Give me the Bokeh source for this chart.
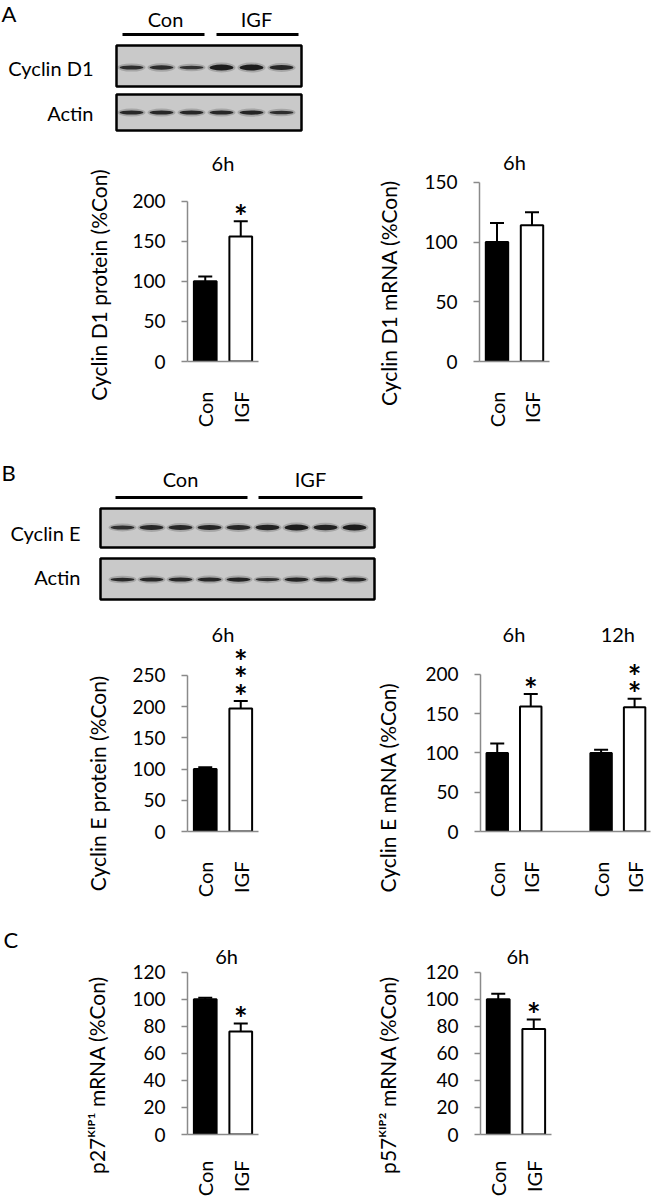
import numpy as np
from bokeh.plotting import figure
from bokeh.models import Range1d, FixedTicker
from bokeh.layouts import column, row
from bokeh.embed import file_html
from bokeh.resources import INLINE
from bokeh.core.properties import value

FONT = "Lato"
GRAY = "#8a8a8a"

# ---------------- data ----------------
cats = ["Con", "IGF"]
# Panel A
a1_vals = [100, 156]
a1_err = [6, 19]
a1_stars = [0, 1]
a2_vals = [100, 114]
a2_err = [16, 11]
a2_stars = [0, 0]
# Panel B
b1_vals = [100, 197]
b1_err = [3, 12]
b1_stars = [0, 3]
b2_times = ["6h", "12h"]
b2_cats = ["Con", "IGF", "Con", "IGF"]
b2_vals = [100, 159, 100, 158]
b2_err = [12, 16, 4, 11]
b2_stars = [0, 1, 0, 2]
# Panel C
c1_vals = [100, 76]
c1_err = [1, 6]
c1_stars = [0, 1]
c2_vals = [100, 78]
c2_err = [4, 7]
c2_stars = [0, 1]

y_titles = ["Cyclin D1 protein (%Con)", "Cyclin D1 mRNA (%Con)",
            "Cyclin E protein (%Con)", "Cyclin E mRNA (%Con)",
            "p27\u1d37\u1d35\u1d3e\u00b9 mRNA (%Con)", "p57\u1d37\u1d35\u1d3e\u00b2 mRNA (%Con)"]

# blot band intensities (relative)
blot_a_cyc = [0.70, 0.72, 0.60, 1.00, 1.00, 0.80]
blot_a_act = [0.80, 0.80, 0.82, 0.80, 0.85, 0.70]
blot_b_cyc = [0.65, 0.80, 0.80, 0.85, 0.80, 0.90, 1.00, 0.90, 1.00]
blot_b_act = [0.75, 0.80, 0.80, 0.80, 0.85, 0.65, 0.85, 0.80, 0.80]


def no_align(p):
    # keep each plot's own borders (no frame alignment between neighbours)
    if "frame_align" in p.properties():
        p.frame_align = False
    return p


# ---------------- helpers ----------------
def strip_fig(x0, w, y0, h):
    # pixel-space figure, y grows downward
    p = figure(width=w, height=h, x_range=Range1d(x0, x0 + w), y_range=Range1d(y0 + h, y0),
               output_backend="svg", toolbar_location=None, min_border=0,
               x_axis_location=None, y_axis_location=None)
    p.grid.visible = False
    p.outline_line_color = None
    return no_align(p)


def txt(p, x, y, s, size="20px", align="center"):
    p.text(x=[x], y=[y], text=[s], text_font=value(FONT), text_font_size=size,
           text_align=align, text_baseline="middle", text_color="black")


def draw_blot(p, left, right, top, bottom, lane0, step, band_y, inten, thick):
    p.quad(left=[left], right=[right], top=[top], bottom=[bottom],
           fill_color="#c9c9c9", line_color="black", line_width=2.5)
    xs = [lane0 + step * i for i in range(len(inten))]
    hs = [thick * v for v in inten]
    p.ellipse(x=xs, y=[band_y] * len(xs), width=28, height=[h + 4 for h in hs],
              fill_color="#3a3a3a", fill_alpha=0.25, line_color=None)
    p.ellipse(x=xs, y=[band_y] * len(xs), width=24, height=hs,
              fill_color="#1c1c1c", fill_alpha=[0.6 + 0.4 * v for v in inten], line_color=None)


def ytitle_fig(x0, w, y0, h, xc, ctr, s):
    # a narrow figure whose (empty) y-axis carries the axis title; the frame is
    # centred on the wanted title centre so Bokeh centres the title there
    Fb = y0 + h
    Ft = 2 * ctr - Fb
    if Ft < y0:
        Ft = y0
        Fb = 2 * ctr - y0
    left = int(round(xc - x0 + 12))
    p = figure(width=w, height=h, x_range=Range1d(0, 1), y_range=Range1d(0, 1),
               output_backend="svg", toolbar_location=None,
               min_border_left=left, min_border_right=0,
               min_border_top=int(round(Ft - y0)), min_border_bottom=int(round(y0 + h - Fb)),
               x_axis_location=None)
    p.grid.visible = False
    p.outline_line_color = None
    yax = p.yaxis[0]
    yax.ticker = FixedTicker(ticks=[])
    yax.axis_line_color = None
    yax.major_tick_line_color = None
    yax.minor_tick_line_color = None
    yax.major_label_text_font_size = "0px"
    yax.axis_label = s
    yax.axis_label_text_font = FONT
    yax.axis_label_text_font_size = "21px"
    yax.axis_label_text_font_style = "normal"
    yax.axis_label_text_color = "black"
    yax.axis_label_standoff = 0
    return no_align(p)


def chart(figx, figy, w, h, L, R, T, B, ymax, step, xend, xpos, labels, vals, errs, stars,
          titles, xstandoff):
    ppu = (B - T) / ymax
    upx = (R - L) / xend
    ytop = ymax + (T - figy) / ppu
    p = figure(width=w, height=h, x_range=Range1d(0, xend), y_range=Range1d(0, ytop),
               output_backend="svg", toolbar_location=None,
               min_border_left=L - figx, min_border_right=figx + w - R,
               min_border_top=0, min_border_bottom=figy + h - B)
    p.outline_line_color = None
    p.grid.visible = False
    colors = ["black" if c_ == "Con" else "white" for c_ in labels]
    p.vbar(x=xpos, top=vals, width=0.64, fill_color=colors, line_color="black", line_width=2)
    tops = [v + e for v, e in zip(vals, errs)]
    p.segment(x0=xpos, y0=vals, x1=xpos, y1=tops, line_color="black", line_width=2)
    cap = 7 / upx
    p.segment(x0=[x - cap for x in xpos], y0=tops, x1=[x + cap for x in xpos], y1=tops,
              line_color="black", line_width=2)
    sx, sy = [], []
    for i, n in enumerate(stars):
        for k in range(n):
            sx.append(xpos[i])
            sy.append(tops[i] + (5 + 18 * k) / ppu)
    if sx:
        p.text(x=sx, y=sy, text=["*"] * len(sx), text_font=value(FONT), text_font_size="32px",
               text_font_style="bold", text_align="center", text_baseline="middle",
               text_color="black")
    p.text(x=[t[0] for t in titles], y=[ymax + (t[1] - 1) / ppu for t in titles],
           text=[t[2] for t in titles], text_font=value(FONT), text_font_size="20px",
           text_align="center", text_baseline="middle", text_color="black")
    yax = p.yaxis[0]
    yax.bounds = (0, ymax)
    yax.ticker = FixedTicker(ticks=list(range(0, ymax + 1, step)))
    yax.axis_line_color = GRAY
    yax.axis_line_width = 1.5
    yax.major_tick_line_color = GRAY
    yax.major_tick_line_width = 1.5
    yax.major_tick_out = 6
    yax.major_tick_in = 0
    yax.minor_tick_line_color = None
    yax.major_label_text_font = FONT
    yax.major_label_text_font_size = "19px"
    yax.major_label_text_color = "black"
    yax.major_label_standoff = 16
    xax = p.xaxis[0]
    xax.ticker = FixedTicker(ticks=xpos)
    xax.major_label_overrides = {x: c_ for x, c_ in zip(xpos, labels)}
    xax.major_label_orientation = np.pi / 2
    xax.major_tick_line_color = None
    xax.minor_tick_line_color = None
    xax.axis_line_color = GRAY
    xax.axis_line_width = 1.5
    xax.major_label_text_font = FONT
    xax.major_label_text_font_size = "20px"
    xax.major_label_text_color = "black"
    xax.major_label_standoff = xstandoff
    return no_align(p)


def simple_pos(n):
    return [i + 0.5 for i in range(n)]


# column geometry (screen px): left title strip | left chart | right title strip | right chart
XL0, XL1, XR0, XR1, XEND = 0, 118, 330, 410, 651

# ---------------- blot A ----------------
bA = strip_fig(0, 651, 0, 138)
txt(bA, 1, 13, "A", "22px", "left")
txt(bA, 165, 18, cats[0])
txt(bA, 256, 18, cats[1])
bA.segment(x0=[122, 216], y0=[34, 34], x1=[204, 298], y1=[34, 34], line_color="black", line_width=3)
draw_blot(bA, 116, 301, 45, 86, 131, 30, 67, blot_a_cyc, 6)
draw_blot(bA, 116, 301, 94, 130, 131, 30, 112, blot_a_act, 5)
txt(bA, 93, 67, "Cyclin D1", "20px", "right")
txt(bA, 93, 112, "Actin", "20px", "right")

# ---------------- charts A ----------------
xp = simple_pos(2)
Y0, H = 138, 292
tA1 = ytitle_fig(XL0, XL1 - XL0, Y0, H, 98, 284.5, y_titles[0])
a1 = chart(XL1, Y0, XR0 - XL1, H, 187, 258, 201, 362, 200, 50, 2, xp, cats, a1_vals, a1_err, a1_stars,
           [(1.0, 39, "6h")], 24)
tA2 = ytitle_fig(XR0, XR1 - XR0, Y0, H, 388, 292.5, y_titles[1])
a2 = chart(XR1, Y0, XEND - XR1, H, 479, 549, 182, 362, 150, 50, 2, xp, cats, a2_vals, a2_err, a2_stars,
           [(1.0, 21, "6h")], 24)

# ---------------- blot B ----------------
bB = strip_fig(0, 651, 430, 175)
txt(bB, 1, 472, "B", "22px", "left")
txt(bB, 180, 478, cats[0])
txt(bB, 310, 478, cats[1])
bB.segment(x0=[115, 258], y0=[497, 497], x1=[247, 362], y1=[497, 497], line_color="black", line_width=3)
draw_blot(bB, 100, 374, 508, 547, 122, 29, 527, blot_b_cyc, 6)
draw_blot(bB, 100, 374, 558, 599, 122, 29, 579, blot_b_act, 5)
txt(bB, 80, 532, "Cyclin E", "20px", "right")
txt(bB, 80, 576, "Actin", "20px", "right")

# ---------------- charts B ----------------
Y0, H = 605, 295
tB1 = ytitle_fig(XL0, XL1 - XL0, Y0, H, 97, 783, y_titles[2])
b1 = chart(XL1, Y0, XR0 - XL1, H, 187, 258, 677, 838, 250, 50, 2, xp, cats, b1_vals, b1_err, b1_stars,
           [(1.0, 44, "6h")], 24)
gap = 1.1
b2_pos = [round(i + 0.5 + gap * (i // 2), 3) for i in range(len(b2_cats))]
b2_xend = (650 - 480) / 33.5
b2_titles = [((b2_pos[2 * g] + b2_pos[2 * g + 1]) / 2, 43, t) for g, t in enumerate(b2_times)]
tB2 = ytitle_fig(XR0, XR1 - XR0, Y0, H, 387, 787, y_titles[3])
b2 = chart(XR1, Y0, XEND - XR1, H, 480, 650, 676, 838, 200, 50, b2_xend, b2_pos, b2_cats, b2_vals,
           b2_err, b2_stars, b2_titles, 24)

# ---------------- charts C ----------------
Y0, H = 900, 299
LET_H = 60
letC = strip_fig(XL0, XL1 - XL0, Y0, LET_H)
txt(letC, 3, 939, "C", "22px", "left")
tC1 = ytitle_fig(XL0, XL1 - XL0, Y0 + LET_H, H - LET_H, 96, 1074.5, y_titles[4])
c1 = chart(XL1, Y0, XR0 - XL1, H, 187, 258, 974, 1142, 120, 20, 2, xp, cats, c1_vals, c1_err,
           c1_stars, [(1.1, 18, "6h")], 20)
tC2 = ytitle_fig(XR0, XR1 - XR0, Y0, H, 387, 1074.5, y_titles[5])
c2 = chart(XR1, Y0, XEND - XR1, H, 480, 551, 974, 1142, 120, 20, 2, xp, cats, c2_vals, c2_err,
           c2_stars, [(1.05, 18, "6h")], 20)

layout = column(bA, row(tA1, a1, tA2, a2), bB, row(tB1, b1, tB2, b2),
                row(column(letC, tC1), c1, tC2, c2))
open("out.html", "w").write(file_html(layout, INLINE, "chart"))
